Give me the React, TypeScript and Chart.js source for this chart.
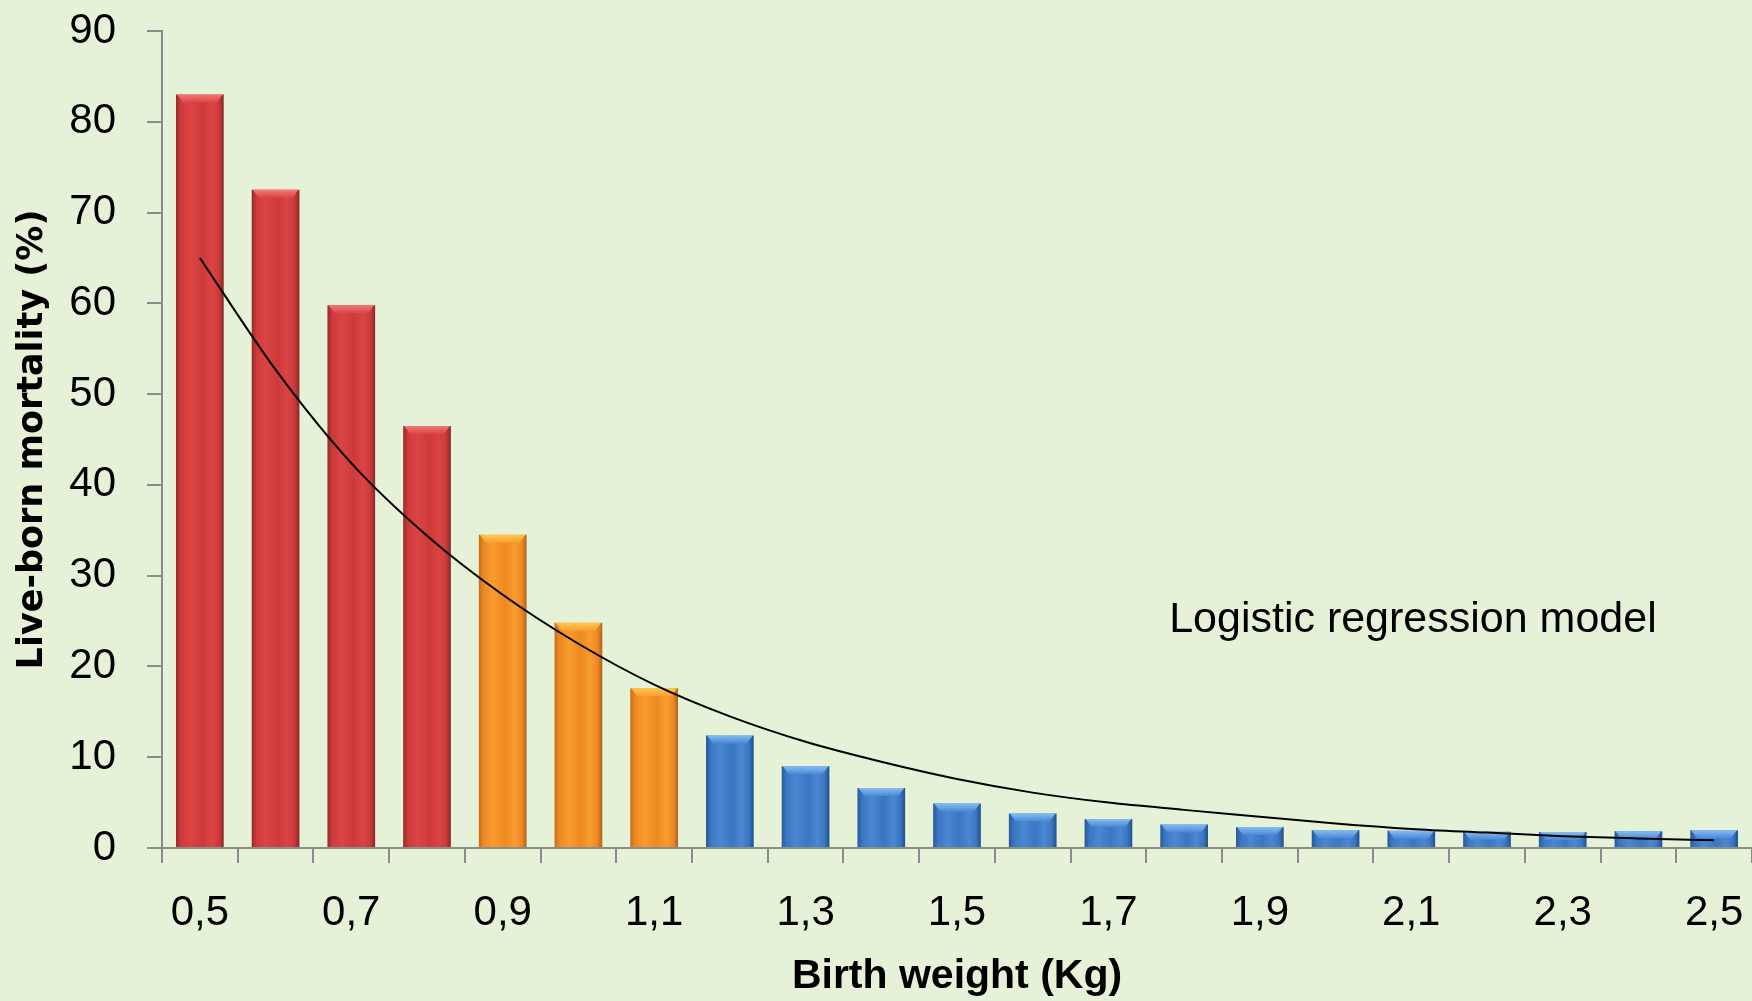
import React, { useEffect, useRef } from 'react';
import { Chart, registerables } from 'chart.js';

Chart.register(...registerables);

const categories = ['0,5', '0,6', '0,7', '0,8', '0,9', '1,0', '1,1', '1,2', '1,3', '1,4', '1,5', '1,6', '1,7', '1,8', '1,9', '2,0', '2,1', '2,2', '2,3', '2,4', '2,5'];
const mortality = [83.0, 72.5, 59.8, 46.5, 34.5, 24.8, 17.6, 12.4, 9.0, 6.6, 4.9, 3.8, 3.2, 2.6, 2.3, 1.95, 1.9, 1.8, 1.75, 1.85, 1.95];
const logisticModel = [65.0, 52.7, 42.4, 34.4, 27.9, 22.5, 18.0, 14.5, 11.7, 9.5, 7.6, 6.1, 5.0, 4.2, 3.45, 2.7, 2.1, 1.7, 1.3, 1.05, 0.85];
const barGroups = ['red', 'red', 'red', 'red', 'orange', 'orange', 'orange', 'blue', 'blue', 'blue', 'blue', 'blue', 'blue', 'blue', 'blue', 'blue', 'blue', 'blue', 'blue', 'blue', 'blue'];
const yMin = 0;
const yMax = 90;
const yStep = 10;
const yTitle = 'Live-born mortality (%)';
const xTitle = 'Birth weight (Kg)';
const annotation = 'Logistic regression model';

const palettes: Record<string, { edge: string; mid: string; light: string; dark: string; cap: string }> = {
  red: { edge: '#962B2B', mid: '#CC3A3A', light: '#DC4444', dark: '#862727', cap: '#F07878' },
  orange: { edge: '#C46E1E', mid: '#EE8822', light: '#F89C30', dark: '#B0641C', cap: '#FCCB50' },
  blue: { edge: '#28599A', mid: '#3A76C2', light: '#4A88D4', dark: '#22508A', cap: '#86BCF2' },
};

const BAR_PCT = 0.63;
const BG = '#E6F2D8';

export default function App() {
  const canvasRef = useRef<HTMLCanvasElement | null>(null);

  useEffect(() => {
    document.body.style.margin = '0';
    const canvas = canvasRef.current;
    if (!canvas) return;

    const bgPlugin = {
      id: 'bg',
      beforeDraw(chart: any) {
        const ctx = chart.ctx;
        ctx.save();
        ctx.fillStyle = BG;
        ctx.fillRect(0, 0, chart.width, chart.height);
        ctx.restore();
      },
    };

    const capPlugin = {
      id: 'caps',
      afterDatasetDraw(chart: any, args: any) {
        if (args.meta.type !== 'bar') return;
        const ctx = chart.ctx;
        ctx.save();
        args.meta.data.forEach((el: any, i: number) => {
          const { x, y, width } = el.getProps(['x', 'y', 'width'], true);
          const pal = palettes[barGroups[i]];
          const left = x - width / 2;
          const right = x + width / 2;
          const h = 8;
          const inset = 7;
          const g = ctx.createLinearGradient(0, y, 0, y + h);
          g.addColorStop(0, pal.cap);
          g.addColorStop(1, pal.light);
          ctx.fillStyle = g;
          ctx.beginPath();
          ctx.moveTo(left + 1, y);
          ctx.lineTo(right - 1, y);
          ctx.lineTo(right - inset, y + h);
          ctx.lineTo(left + inset, y + h);
          ctx.closePath();
          ctx.fill();
        });
        ctx.restore();
      },
    };

    const textPlugin = {
      id: 'annot',
      afterDraw(chart: any) {
        const ctx = chart.ctx;
        const xs = chart.scales.x;
        const ys = chart.scales.y;
        ctx.save();
        ctx.font = '43px "Liberation Sans", Arial, sans-serif';
        ctx.fillStyle = '#000';
        ctx.textAlign = 'left';
        ctx.textBaseline = 'alphabetic';
        const x = xs.getPixelForValue(13) - 15;
        const y = ys.getPixelForValue(23.8);
        ctx.fillText(annotation, x, y);
        ctx.restore();
      },
    };

    const chart = new Chart(canvas, {
      type: 'bar',
      data: {
        labels: categories,
        datasets: [
          {
            type: 'line',
            label: 'Logistic regression model',
            data: logisticModel,
            borderColor: '#000000',
            borderWidth: 2,
            pointRadius: 0,
            tension: 0.4,
            cubicInterpolationMode: 'monotone',
            fill: false,
            order: 0,
          } as any,
          {
            type: 'bar',
            label: 'Mortality',
            data: mortality,
            order: 1,
            barPercentage: BAR_PCT,
            categoryPercentage: 1,
            borderWidth: 0,
            backgroundColor: (c: any) => {
              const pal = palettes[barGroups[c.dataIndex]] || palettes.blue;
              const chart = c.chart;
              const xs = chart.scales && chart.scales.x;
              if (!chart.chartArea || !xs || c.type !== 'data') return pal.mid;
              const cx = xs.getPixelForValue(c.dataIndex);
              const w = (xs.width / categories.length) * BAR_PCT;
              const g = chart.ctx.createLinearGradient(cx - w / 2, 0, cx + w / 2, 0);
              g.addColorStop(0, pal.edge);
              g.addColorStop(0.1, pal.mid);
              g.addColorStop(0.3, pal.light);
              g.addColorStop(0.55, pal.mid);
              g.addColorStop(0.75, pal.light);
              g.addColorStop(0.9, pal.mid);
              g.addColorStop(1, pal.dark);
              return g;
            },
          },
        ],
      },
      options: {
        responsive: false,
        animation: false,
        devicePixelRatio: 1,
        layout: { padding: { top: 31, right: 0, left: 0, bottom: 0 } },
        plugins: {
          legend: { display: false },
          tooltip: { enabled: false },
        },
        scales: {
          x: {
            type: 'category',
            offset: true,
            grid: {
              offset: true,
              drawOnChartArea: false,
              drawTicks: true,
              tickLength: 15,
              color: '#8C8C8C',
              lineWidth: 2,
            },
            border: { display: true, color: '#8C8C8C', width: 2 },
            ticks: {
              autoSkip: false,
              maxRotation: 0,
              minRotation: 0,
              padding: 25,
              color: '#000000',
              font: { family: '"Liberation Sans", Arial, sans-serif', size: 42 },
              callback: (_v: any, i: number) => (i % 2 === 0 ? categories[i] : ''),
            },
            title: {
              display: true,
              text: xTitle,
              color: '#000000',
              font: { family: '"Liberation Sans", Arial, sans-serif', size: 41, weight: 'bold' },
              padding: { top: 0, bottom: 0 },
            },
            afterFit: (scale: any) => {
              scale.height = 153;
              scale.paddingLeft = 0;
              scale.paddingRight = 0;
            },
          },
          y: {
            min: yMin,
            max: yMax,
            ticks: {
              stepSize: yStep,
              padding: 31,
              color: '#000000',
              font: { family: '"Liberation Sans", Arial, sans-serif', size: 42 },
            },
            grid: {
              drawOnChartArea: false,
              drawTicks: true,
              tickLength: 15,
              color: '#8C8C8C',
              lineWidth: 2,
            },
            border: { display: true, color: '#8C8C8C', width: 2 },
            title: {
              display: true,
              text: yTitle,
              color: '#000000',
              font: { family: '"DejaVu Sans", Verdana, sans-serif', size: 35, weight: 'bold' },
              padding: { top: 12, bottom: 0 },
            },
            afterFit: (scale: any) => {
              scale.width = 162;
              scale.paddingTop = 0;
              scale.paddingBottom = 0;
            },
          },
        },
      },
      plugins: [bgPlugin, capPlugin, textPlugin],
    });

    return () => {
      chart.destroy();
    };
  }, []);

  return (
    <div style={{ width: 1752, height: 1001, background: BG }}>
      <canvas ref={canvasRef} width={1752} height={1001} style={{ display: 'block' }} />
    </div>
  );
}
